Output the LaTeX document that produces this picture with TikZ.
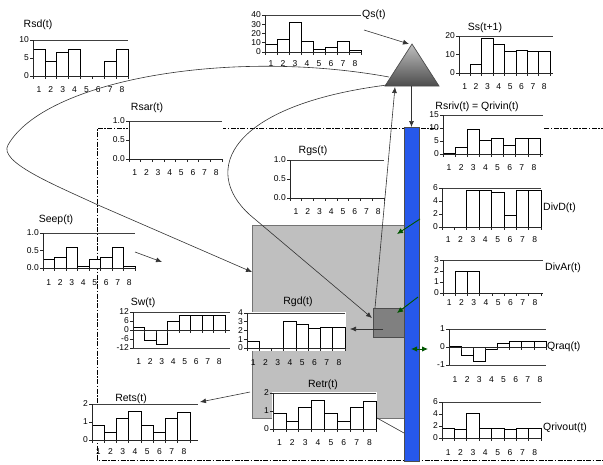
\documentclass[tikz,border=0pt]{standalone}
\usepackage{fontspec}
\setmainfont{Liberation Sans}
\usetikzlibrary{arrows.meta}

\definecolor{riverblue}{RGB}{38,88,235}
\definecolor{gdark}{RGB}{0,85,0}

\tikzset{
  axisline/.style={draw=black!85, line width=0.6pt},
  gridline/.style={draw=black!75, line width=0.8pt},
  barbox/.style={draw=black, fill=white, line width=0.6pt},
  ticklbl/.style={font=\fontsize{8.5}{8.5}\selectfont, inner sep=0pt},
  ctitle/.style={font=\fontsize{10.5}{10.5}\selectfont, inner sep=0pt},
  plotbg/.style={fill=white},
  arr/.style={draw=black!80, line width=0.6pt, -{Latex[length=6pt,width=5pt]}},
  garr/.style={draw=gdark, line width=0.9pt, -{Latex[length=6pt,width=5.5pt]}},
  frameline/.style={draw=black, line width=1pt, dash pattern=on 5pt off 1.5pt on 1.5pt off 1.5pt},
  graybox/.style={draw=black!55, fill=black!25, line width=0.8pt, inner sep=0pt, outer sep=0pt},
  darkbox/.style={draw=black!70, fill=black!50, line width=0.6pt, inner sep=0pt, outer sep=0pt},
  riverbar/.style={draw=black!70, fill=riverblue, line width=0.6pt, inner sep=0pt, outer sep=0pt},
}

% chart geometry: x0, x1 (end of bins), x end of lines, y top, y bottom, vmin, vmax, y of x labels
\newcommand\setchart[8]{\def\cxa{#1}\def\cxb{#2}\def\cxt{#3}\def\cyt{#4}\def\cyb{#5}\def\cvmin{#6}\def\cvmax{#7}\def\cyl{#8}}
% #1 name, #2 ticks, #3 values
\newcommand\drawchart[3]{%
  \pgfmathsetmacro\cw{(\cxb-\cxa)/8}%
  \pgfmathsetmacro\cs{(\cyb-\cyt)/(\cvmax-\cvmin)}%
  \pgfmathsetmacro\cyz{\cyb+(\cvmin)*\cs}%
  \path[plotbg] (\cxa-1,\cyt-1) rectangle (\cxt+1,\cyb+3);
  \foreach \vv [count=\ii] in {#3} {%
    \pgfmathsetmacro\xl{\cxa+(\ii-1)*\cw}%
    \pgfmathsetmacro\xr{\cxa+\ii*\cw}%
    \pgfmathsetmacro\yv{\cyz-(\vv)*\cs}%
    \draw[barbox] (\xl,\cyz) rectangle (\xr,\yv);
  }
  \draw[gridline] (\cxa,\cyt) -- (\cxt,\cyt);
  \draw[gridline] (\cxa,\cyb) -- (\cxt,\cyb);
  \draw[axisline] (\cxa,\cyz) -- (\cxt,\cyz);
  \draw[axisline] (\cxa,\cyt) -- (\cxa,\cyb);
  \foreach \tk [count=\kk] in {#2} {%
    \pgfmathsetmacro\yy{\cyz-(\tk)*\cs}%
    \draw[axisline] (\cxa-3,\yy) -- (\cxa,\yy);
    \node[ticklbl,anchor=east] (#1-y\kk) at (\cxa-4,\yy) {\tk};
  }
  \foreach \ii in {0,...,8} {%
    \pgfmathsetmacro\xx{\cxa+\ii*\cw}%
    \draw[axisline] (\xx,\cyz) -- (\xx,\cyz+3);
  }
  \foreach \ii in {1,...,8} {%
    \pgfmathsetmacro\xx{\cxa+(\ii-0.5)*\cw}%
    \node[ticklbl] (#1-x\ii) at (\xx,\cyl) {\ii};
  }
}

\begin{document}
\begin{tikzpicture}[x=1pt,y=-1pt]
\useasboundingbox (0,0) rectangle (603,464);

% dash-dot frame
\draw[frameline] (606,128) -- (97,128) -- (97,460) -- (606,460);

% boxes
\node[graybox, minimum width=152pt, minimum height=193pt, anchor=north west] (gw) at (252,225) {};
\node[darkbox, minimum width=31pt, minimum height=29pt, anchor=north west] (wet) at (373,308) {};
\node[riverbar, minimum width=15pt, minimum height=334pt, anchor=north west] (river) at (404,127) {};

% triangle
\coordinate (apex) at (412,44);
\coordinate (tbl) at (385,86);
\coordinate (tbr) at (439,86);
\shadedraw[top color=black!25, bottom color=black!70, draw=black!70, line width=0.7pt] (apex) -- (tbr) -- (tbl) -- cycle;

% charts
\setchart{33}{128}{128}{40}{76}{0}{10}{90}
\drawchart{rsd}{0,5,10}{7.5,4.2,6.6,7.5,0,0,4.2,7.5}
\node[ctitle] (t-rsd) at (38,25) {Rsd(t)};

\setchart{265}{361}{361}{15}{52}{0}{40}{64}
\drawchart{qs}{0,10,20,30,40}{8.4,13.5,32,11.6,2.9,4.7,11.6,1.5}
\node[ctitle,anchor=west] (t-qs) at (362,15) {Qs(t)};

\setchart{459}{550}{553}{36}{73}{0}{20}{87}
\drawchart{ss}{0,10,20}{0,4.9,18.7,15.7,11.9,12.4,12,12}
\node[ctitle] (t-ss) at (485,28) {Ss(t+1)};

\setchart{129}{222}{222}{121}{159}{0}{1}{173}
\drawchart{rsar}{0.0,0.5,1.0}{0,0,0,0,0,0,0,0}
\node[ctitle] (t-rsar) at (147,108) {Rsar(t)};

\setchart{290}{384}{384}{160}{198}{0}{1}{212}
\drawchart{rgs}{0.0,0.5,1.0}{0,0,0,0,0,0,0,0}
\node[ctitle] (t-rgs) at (313,151) {Rgs(t)};

\setchart{443}{540}{543}{115}{154}{0}{15}{168}
\drawchart{rsriv}{0,5,10,15}{0.3,2.5,9.5,5.1,6.1,3.2,6.1,5.9}
\node[ctitle] (t-rsriv) at (477,107) {Rsriv(t) = Qrivin(t)};

\tikzset{plotbg/.style={}}
\setchart{43}{135}{135}{233}{268}{0}{1}{283}
\drawchart{seep}{0.0,0.5,1.0}{0.26,0.3,0.59,0.05,0.26,0.3,0.59,0.05}
\node[ctitle] (t-seep) at (56,220) {Seep(t)};
\tikzset{plotbg/.style={fill=white}}

\setchart{133}{225}{230}{312}{348}{-12}{12}{362}
\drawchart{sw}{-12,-6,0,6,12}{1.8,-6.7,-9.6,5.6,10,10,10,10}
\node[ctitle] (t-sw) at (143,303) {Sw(t)};

\setchart{247}{345}{345}{313}{348}{0}{4}{363}
\drawchart{rgd}{0,1,2,3,4}{0.72,0,0,3.1,2.7,2.25,2.4,2.4}
\node[ctitle] (t-rgd) at (298,302) {Rgd(t)};

\setchart{273}{376}{376}{393}{429}{0}{2}{443}
\drawchart{retr}{0,1,2}{0.87,0.44,1.2,1.61,0.87,0.44,1.2,1.52}
\node[ctitle] (t-retr) at (323,385) {Retr(t)};

\setchart{92}{190}{198}{404}{440}{0}{2}{452}
\drawchart{rets}{0,1,2}{0.83,0.43,1.2,1.6,0.83,0.43,1.2,1.52}
\node[ctitle] (t-rets) at (131,399) {Rets(t)};

\setchart{442}{541}{541}{188}{227}{0}{6}{240}
\drawchart{divd}{0,2,4,6}{0,0,5.6,5.6,5.3,1.85,5.6,5.6}
\node[ctitle,anchor=west] (t-divd) at (543,208) {DivD(t)};

\setchart{443}{541}{543}{260}{293}{0}{3}{303}
\drawchart{divar}{0,1,2,3}{0,2,2,0,0,0,0,0}
\node[ctitle,anchor=west] (t-divar) at (545,268) {DivAr(t)};

\setchart{449}{546}{546}{329}{365}{-1}{1}{380}
\drawchart{qraq}{-1,0,1}{0.02,-0.46,-0.82,-0.13,0.2,0.33,0.33,0.33}
\node[ctitle,anchor=west] (t-qraq) at (547,347) {Qraq(t)};

\setchart{442}{541}{541}{402}{438}{0}{6}{453}
\drawchart{qrivout}{0,2,4,6}{1.6,1.45,4.1,1.6,1.6,1.45,1.6,1.6}
\node[ctitle,anchor=west] (t-qrivout) at (543,428) {Qrivout(t)};

% connector coordinates
\coordinate (qsout) at (364,30);
\coordinate (apexin) at (409,44);
\coordinate (tribase) at (411.5,86);
\coordinate (tbin) at (395,87);
\coordinate (wettop) at (375,308);
\coordinate (c1s) at (389,77);
\coordinate (c1m) at (8,145);
\coordinate (c1k) at (98,205);
\coordinate (gwin) at (252,272);
\coordinate (c2s) at (387,85);
\coordinate (c2k) at (250,215);
\coordinate (wetin) at (372,318);
\coordinate (seepout) at (135,252);
\coordinate (seepin) at (162,262);
\coordinate (wetout) at (383,329);
\coordinate (rgdin) at (350,329);
\coordinate (retrout) at (250,392);
\coordinate (retsin) at (200,402);
\coordinate (retcorner) at (377,418);
\coordinate (retriver) at (404,433);
\coordinate (g1s) at (420,219);
\coordinate (g1e) at (397,234);
\coordinate (g2s) at (418,297);
\coordinate (g2e) at (397,313);
\coordinate (g3a) at (411,349);
\coordinate (g3b) at (428,349);

% connectors
\draw[arr] (qsout) -- (apexin);
\draw[arr] (tribase) -- (river.north);
\draw[arr] (wettop) -- (tbin);
\draw[arr] (c1s) .. controls (230,48) and (45,80) .. (c1m) .. controls (-2,162) and (55,185) .. (c1k) -- (gwin);
\draw[arr] (c2s) .. controls (230,105) and (200,170) .. (c2k) -- (wetin);
\draw[arr] (seepout) -- (seepin);
\draw[arr] (wetout) -- (rgdin);
\draw[arr] (retrout) -- (retsin);
\draw[draw=black!80, line width=0.6pt] (retcorner) -- (retriver);
\draw[garr] (g1s) -- (g1e);
\draw[garr] (g2s) -- (g2e);
\draw[garr, {Latex[length=6pt,width=5.5pt]}-{Latex[length=6pt,width=5.5pt]}] (g3a) -- (g3b);
\end{tikzpicture}
\end{document}
